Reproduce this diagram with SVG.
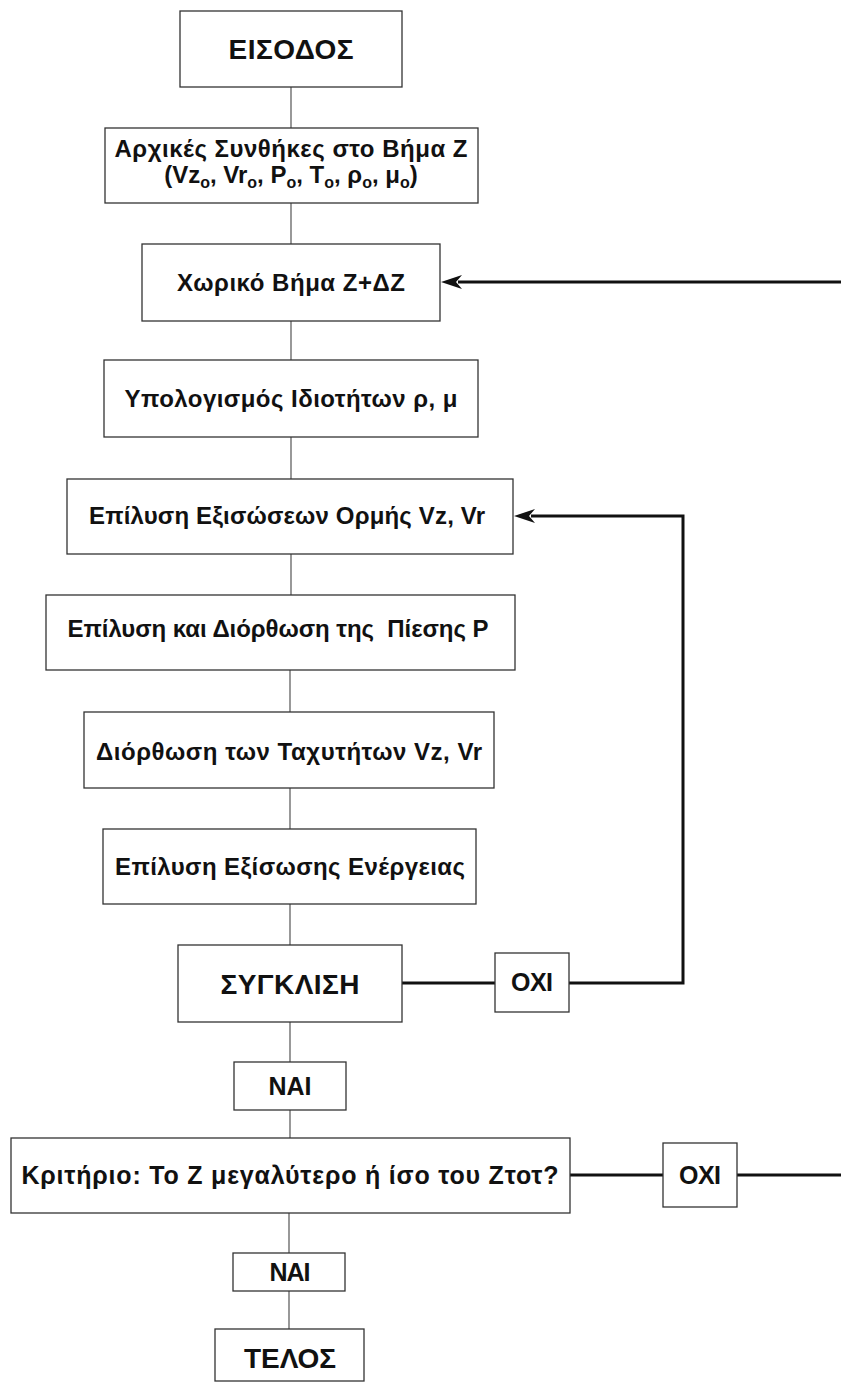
<svg xmlns="http://www.w3.org/2000/svg" width="841" height="1385" viewBox="0 0 841 1385">
<style>
.box{fill:#fff;stroke:#333;stroke-width:1.3}
.t{font-family:"Liberation Sans",Arial,sans-serif;font-weight:bold;fill:#111;text-anchor:middle}
.m{font-size:24px}
.b{font-size:28px}
.s{font-size:25px}
.thin{stroke:#555;stroke-width:1.2;fill:none}
.thick{stroke:#111;stroke-width:3;fill:none}
</style>
<rect width="841" height="1385" fill="#fff"/>
<g id="connectors">
<path class="thin" d="M291,87V128M291,203V244M291,321V360M291,437V479M291,554V595M290,670V712M290,788V829M290,904V945M290,1022V1062M290,1110V1138M289,1213V1253M289,1291V1329"/>
<path class="thick" d="M841,282H458"/>
<path class="thick" d="M402,983H495M569,983H683V516H531"/>
<path class="thick" d="M570,1175H663M737,1175H841"/>
<path d="M441,282 L462,275 L456,282 L462,289 Z" fill="#111"/>
<path d="M514,516 L535,509 L529,516 L535,523 Z" fill="#111"/>
</g>
<g id="n1"><rect class="box" x="180" y="11" width="222" height="76"/><text class="t b" x="291" y="59" textLength="125">ΕΙΣΟΔΟΣ</text></g>
<g id="n2"><rect class="box" x="105" y="128" width="373" height="75"/>
<text class="t m" x="291" y="157" textLength="353">Αρχικές Συνθήκες στο Βήμα Ζ</text>
<text class="t m" x="291" y="183">(Vz<tspan font-size="16" dy="5">o</tspan><tspan dy="-5">, Vr</tspan><tspan font-size="16" dy="5">o</tspan><tspan dy="-5">, P</tspan><tspan font-size="16" dy="5">o</tspan><tspan dy="-5">, T</tspan><tspan font-size="16" dy="5">o</tspan><tspan dy="-5">, ρ</tspan><tspan font-size="16" dy="5">o</tspan><tspan dy="-5">, μ</tspan><tspan font-size="16" dy="5">o</tspan><tspan dy="-5">)</tspan></text></g>
<g id="n3"><rect class="box" x="142" y="244" width="298" height="77"/><text class="t m" x="291" y="291" textLength="228">Χωρικό Βήμα Ζ+ΔΖ</text></g>
<g id="n4"><rect class="box" x="104" y="360" width="374" height="77"/><text class="t m" x="291" y="407" textLength="333">Υπολογισμός Ιδιοτήτων ρ, μ</text></g>
<g id="n5"><rect class="box" x="67" y="479" width="446" height="75"/><text class="t m" x="287" y="524" textLength="396">Επίλυση Εξισώσεων Ορμής Vz, Vr</text></g>
<g id="n6"><rect class="box" x="46" y="595" width="469" height="75"/><text class="t m" x="278" y="637" textLength="421" xml:space="preserve">Επίλυση και Διόρθωση της  Πίεσης Ρ</text></g>
<g id="n7"><rect class="box" x="84" y="712" width="410" height="76"/><text class="t m" x="289" y="760" textLength="386">Διόρθωση των Ταχυτήτων Vz, Vr</text></g>
<g id="n8"><rect class="box" x="103" y="829" width="373" height="75"/><text class="t m" x="290" y="875" textLength="350">Επίλυση Εξίσωσης Ενέργειας</text></g>
<g id="n9"><rect class="box" x="178" y="945" width="224" height="77"/><text class="t b" x="290" y="994" textLength="139">ΣΥΓΚΛΙΣΗ</text></g>
<g id="n10"><rect class="box" x="495" y="953" width="74" height="59"/><text class="t s" x="532" y="991" textLength="42">ΟΧΙ</text></g>
<g id="n11"><rect class="box" x="234" y="1062" width="112" height="48"/><text class="t s" x="290" y="1095" textLength="43">ΝΑΙ</text></g>
<g id="n12"><rect class="box" x="11" y="1138" width="559" height="75"/><text class="t m" x="290" y="1184" textLength="537" style="font-size:25px">Κριτήριο: Το Ζ μεγαλύτερο ή ίσο του Ζτοτ?</text></g>
<g id="n13"><rect class="box" x="663" y="1143" width="74" height="64"/><text class="t s" x="700" y="1184" textLength="42">ΟΧΙ</text></g>
<g id="n14"><rect class="box" x="233" y="1253" width="112" height="38"/><text class="t s" x="290" y="1281" textLength="41">ΝΑΙ</text></g>
<g id="n15"><rect class="box" x="215" y="1329" width="149" height="52"/><text class="t b" x="290" y="1368" textLength="92">ΤΕΛΟΣ</text></g>
</svg>
